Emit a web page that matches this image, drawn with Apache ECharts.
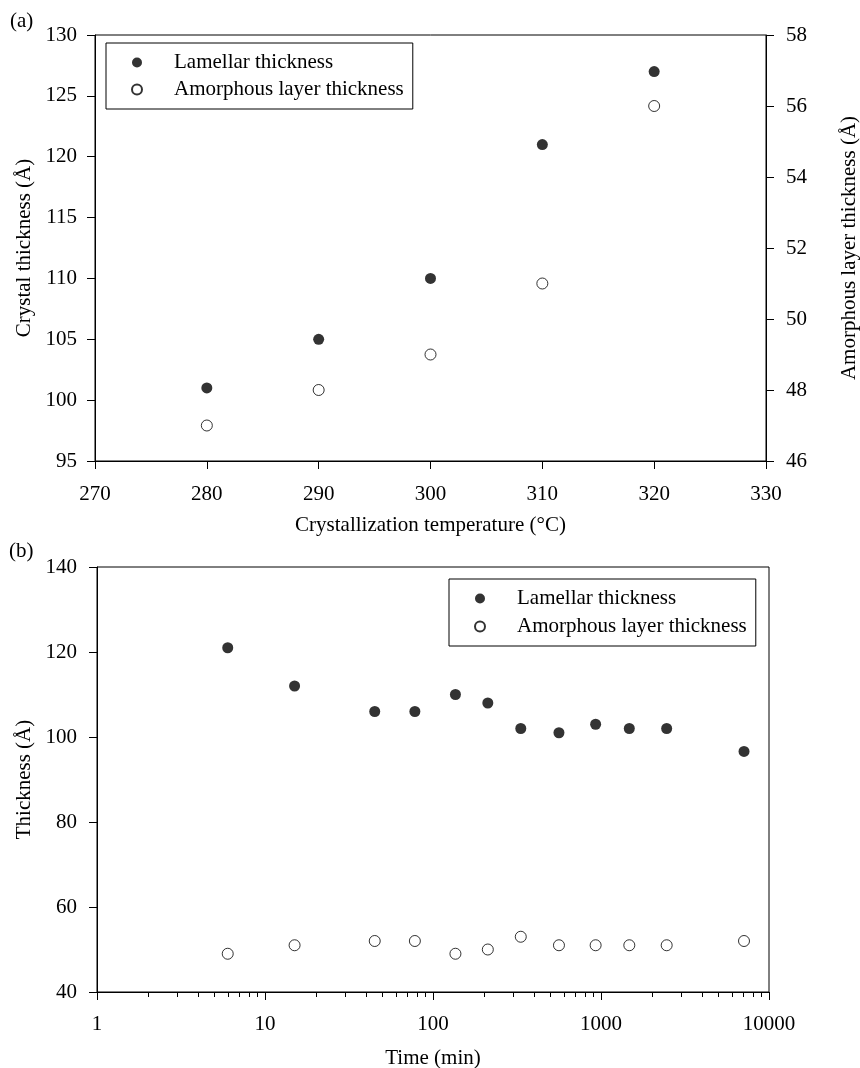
<!DOCTYPE html>
<html><head><meta charset="utf-8">
<script src="https://cdn.jsdelivr.net/npm/echarts@6/dist/echarts.min.js"></script>
<style>html,body{margin:0;padding:0;background:#fff}#c{width:860px;height:1068px}</style>
</head><body><div id="c"></div>
<script>
// ---- data ----
const seriesNames = ['Lamellar thickness', 'Amorphous layer thickness'];
const crystTemps = [280, 290, 300, 310, 320];               // °C
const lamellarByTemp = [101, 105, 110, 121, 127];           // Å (left axis)
const amorphousByTemp = [47, 48, 49, 51, 56];               // Å (right axis)
const timeMinutes = [6, 15, 45, 78, 136, 212, 333, 562, 929, 1474, 2460, 7100];
const lamellarByTime = [121, 112, 106, 106, 110, 108, 102, 101, 103, 102, 102, 96.6];
const amorphousByTime = [49, 51, 52, 52, 49, 50, 53, 51, 51, 51, 51, 52];
const logTickLabels = [1, 10, 100, 1000, 10000];

// ---- style ----
const FONT = '"Liberation Serif", "Times New Roman", serif';
const txt = { fontFamily: FONT, fontSize: 21, color: '#000', fontWeight: 'normal' };
const line = { show: true, lineStyle: { color: '#000', width: 1 } };
const tick = { show: true, inside: false, length: 8, lineStyle: { color: '#000', width: 1 } };
const filled = { color: '#000' };
const open = { color: '#fff', borderColor: '#000', borderWidth: 1 };
const legendBase = {
  orient: 'vertical', data: seriesNames, itemWidth: 64, itemHeight: 10, itemGap: 6,
  padding: [9, 9, 9, 25], borderColor: '#000', borderWidth: 1, backgroundColor: '#fff',
  textStyle: Object.assign({}, txt, { lineHeight: 20 }), selectedMode: false
};
const pairs = (xs, ys) => xs.map((x, i) => [x, ys[i]]);

const option = {
  animation: false,
  backgroundColor: '#fff',
  textStyle: { fontFamily: FONT },
  title: [
    { text: '(a)', left: 10, top: 11, padding: 0, textStyle: txt },
    { text: '(b)', left: 9, top: 541, padding: 0, textStyle: txt }
  ],
  grid: [
    { left: 95, top: 35, width: 671, height: 426, show: true, borderColor: '#000', borderWidth: 1,
      backgroundColor: 'transparent', containLabel: false, outerBoundsMode: 'none' },
    { left: 97, top: 567, width: 672, height: 425, show: true, borderColor: '#000', borderWidth: 1,
      backgroundColor: 'transparent', containLabel: false, outerBoundsMode: 'none' }
  ],
  legend: [
    Object.assign({}, legendBase, { left: 106, top: 43 }),
    Object.assign({}, legendBase, { left: 449, top: 579, itemGap: 7 })
  ],
  xAxis: [
    { gridIndex: 0, type: 'value', min: 270, max: 330, interval: 10,
      axisLine: line, axisTick: tick, splitLine: { show: false },
      axisLabel: Object.assign({ margin: 23 }, txt),
      name: 'Crystallization temperature (°C)', nameLocation: 'middle', nameGap: 54, nameTextStyle: txt },
    { gridIndex: 1, type: 'log', logBase: 10, min: logTickLabels[0], max: logTickLabels[logTickLabels.length - 1],
      axisLine: line, axisTick: tick, splitLine: { show: false }, minorTick: { show: false },
      axisLabel: Object.assign({ margin: 22, formatter: v => String(Math.round(v)) }, txt),
      name: 'Time (min)', nameLocation: 'middle', nameGap: 56, nameTextStyle: txt }
  ],
  yAxis: [
    { gridIndex: 0, type: 'value', position: 'left', min: 95, max: 130, interval: 5,
      axisLine: line, axisTick: tick, splitLine: { show: false },
      axisLabel: Object.assign({ margin: 18 }, txt),
      name: 'Crystal thickness (Å)', nameLocation: 'middle', nameGap: 60, nameTextStyle: txt },
    { gridIndex: 0, type: 'value', position: 'right', min: 46, max: 58, interval: 2,
      axisLine: line, axisTick: tick, splitLine: { show: false },
      axisLabel: Object.assign({ margin: 20 }, txt),
      name: 'Amorphous layer thickness (Å)', nameLocation: 'middle', nameGap: 73, nameTextStyle: txt },
    { gridIndex: 1, type: 'value', position: 'left', min: 40, max: 140, interval: 20,
      axisLine: line, axisTick: tick, splitLine: { show: false },
      axisLabel: Object.assign({ margin: 20 }, txt),
      name: 'Thickness (Å)', nameLocation: 'middle', nameGap: 60, nameTextStyle: txt }
  ],
  series: [
    { name: seriesNames[0], type: 'scatter', xAxisIndex: 0, yAxisIndex: 0, symbolSize: 11,
      itemStyle: filled, data: pairs(crystTemps, lamellarByTemp) },
    { name: seriesNames[1], type: 'scatter', xAxisIndex: 0, yAxisIndex: 1, symbolSize: 11,
      itemStyle: open, data: pairs(crystTemps, amorphousByTemp) },
    { name: seriesNames[0], type: 'scatter', xAxisIndex: 1, yAxisIndex: 2, symbolSize: 11,
      itemStyle: filled, data: pairs(timeMinutes, lamellarByTime) },
    { name: seriesNames[1], type: 'scatter', xAxisIndex: 1, yAxisIndex: 2, symbolSize: 11,
      itemStyle: open, data: pairs(timeMinutes, amorphousByTime) }
  ]
};

const chart = echarts.init(document.getElementById('c'), null, { renderer: 'canvas' });
chart.setOption(option);

// minor ticks of the log axis at 2..9 of each decade, placed through the axis scale
const yBase = chart.convertToPixel({ yAxisIndex: 2 }, 40);
const minor = [];
for (let d = logTickLabels[0]; d < logTickLabels[logTickLabels.length - 1]; d *= 10) {
  for (let k = 2; k <= 9; k++) {
    const px = Math.round(chart.convertToPixel({ xAxisIndex: 1 }, d * k)) + 0.5;
    minor.push({ type: 'line', silent: true, shape: { x1: px, y1: yBase, x2: px, y2: yBase + 5 },
      style: { stroke: '#000', lineWidth: 1 } });
  }
}
chart.setOption({ graphic: minor });
</script></body></html>
